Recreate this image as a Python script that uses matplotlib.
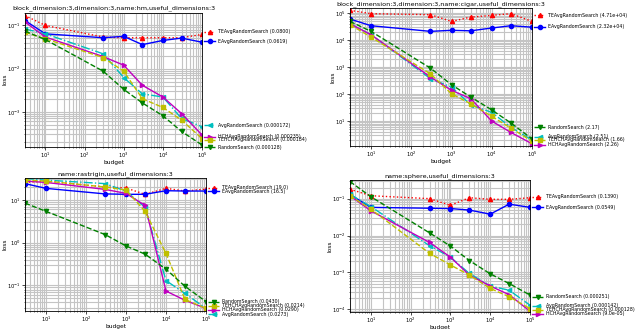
import matplotlib
matplotlib.use("Agg")
import matplotlib.pyplot as plt
from matplotlib.lines import Line2D

# budgets (x) shared by every panel
budgets = [3, 10, 300, 1000, 3000, 10000, 30000, 100000]

methods = ["TEAvgRandomSearch", "EAvgRandomSearch", "AvgRandomSearch",
           "HCHAvgRandomSearch", "TEHCHAvgRandomSearch", "RandomSearch"]

# losses, one dict per panel
hm_loss = {
    "TEAvgRandomSearch":    [0.17, 0.10, 0.054, 0.052, 0.052, 0.052, 0.052, 0.062],
    "EAvgRandomSearch":     [0.13, 0.064, 0.052, 0.056, 0.036, 0.045, 0.051, 0.041],
    "AvgRandomSearch":      [0.083, 0.064, 0.022, 0.0062, 0.0026, 0.0022, 7e-4, 4.5e-4],
    "HCHAvgRandomSearch":   [0.12, 0.054, 0.019, 0.012, 0.0041, 0.0022, 9.1e-4, 2.9e-4],
    "TEHCHAvgRandomSearch": [0.070, 0.049, 0.018, 0.0087, 0.0020, 0.00126, 6.4e-4, 2.4e-4],
    "RandomSearch":         [0.074, 0.047, 0.0087, 0.0033, 0.0016, 8.1e-4, 3.5e-4, 1.7e-4],
}
cigar_loss = {
    "TEAvgRandomSearch":    [1.26e5, 9.5e4, 8.7e4, 4.9e4, 7.1e4, 8.2e4, 9.5e4, 4.9e4],
    "EAvgRandomSearch":     [6.0e4, 3.4e4, 2.1e4, 2.3e4, 2.2e4, 2.8e4, 3.4e4, 3.0e4],
    "AvgRandomSearch":      [4.0e4, 1.58e4, 372, 182, 40, 21, 5.9, 2.0],
    "HCHAvgRandomSearch":   [4.0e4, 1.58e4, 427, 138, 68, 10, 3.8, 1.45],
    "TEHCHAvgRandomSearch": [3.7e4, 1.29e4, 562, 102, 44, 15, 5.5, 1.8],
    "RandomSearch":         [4.9e4, 2.1e4, 912, 222, 78, 26, 8.5, 2.2],
}
rastrigin_loss = {
    "TEAvgRandomSearch":    [25.6, 27.5, 20, 19, 13.5, 18.6, 16.1, 17.9],
    "EAvgRandomSearch":     [24, 18.6, 13.8, 13.5, 13.5, 16.4, 16.1, 16.1],
    "AvgRandomSearch":      [31.6, 29, 24, 16, 6.7, 0.13, 0.065, 0.029],
    "HCHAvgRandomSearch":   [27.5, 25.6, 17.6, 14.2, 7.4, 0.074, 0.045, 0.029],
    "TEHCHAvgRandomSearch": [29, 27.5, 20, 17, 5.4, 0.56, 0.047, 0.029],
    "RandomSearch":         [8.4, 5.4, 1.55, 0.84, 0.54, 0.24, 0.095, 0.042],
}
sphere_loss = {
    "TEAvgRandomSearch":    [0.18, 0.12, 0.10, 0.066, 0.106, 0.096, 0.096, 0.106],
    "EAvgRandomSearch":     [0.13, 0.058, 0.055, 0.054, 0.049, 0.038, 0.071, 0.058],
    "AvgRandomSearch":      [0.13, 0.061, 0.0053, 0.0026, 9.4e-4, 4.3e-4, 3.3e-4, 1.3e-4],
    "HCHAvgRandomSearch":   [0.12, 0.047, 0.0065, 0.0026, 8.5e-4, 4.3e-4, 2.5e-4, 8.9e-5],
    "TEHCHAvgRandomSearch": [0.12, 0.052, 0.0033, 0.0016, 8.5e-4, 3.7e-4, 2.2e-4, 1.05e-4],
    "RandomSearch":         [0.29, 0.113, 0.0118, 0.0052, 0.0021, 9.2e-4, 5.0e-4, 2.45e-4],
}

hm_scores = ["0.0800", "0.0619", "0.000172", "0.000235", "0.000184", "0.000128"]
cigar_scores = ["4.71e+04", "2.32e+04", "2.51", "2.26", "1.66", "2.17"]
rastrigin_scores = ["19.0", "16.5", "0.0273", "0.0290", "0.0214", "0.0430"]
sphere_scores = ["0.1390", "0.0549", "0.000142", "9.0e-05", "0.000128", "0.000251"]

titles = ["block_dimension:3,dimension:3,name:hm,useful_dimensions:3",
          "block_dimension:3,dimension:3,name:cigar,useful_dimensions:3",
          "name:rastrigin,useful_dimensions:3",
          "name:sphere,useful_dimensions:3"]

xticks = [10, 100, 1000, 10000, 100000]
yticks = [[1e-3, 1e-2, 1e-1], [1e1, 1e2, 1e3, 1e4, 1e5],
          [1e-1, 1e0, 1e1], [1e-4, 1e-3, 1e-2, 1e-1]]

# styles per method
styles = {
    "TEAvgRandomSearch":    dict(color="r", ls=":", marker="^"),
    "EAvgRandomSearch":     dict(color="b", ls="-", marker="o"),
    "AvgRandomSearch":      dict(color="c", ls="-.", marker="<"),
    "HCHAvgRandomSearch":   dict(color="m", ls="-", marker=">"),
    "TEHCHAvgRandomSearch": dict(color="y", ls="--", marker="s"),
    "RandomSearch":         dict(color="g", ls="--", marker="v"),
}

W, H = 640, 329
fig = plt.figure(figsize=(W / 100, H / 100), dpi=100)

# panel boxes in pixels: left, right, top, bottom
boxes = [(25, 202, 12.5, 146.7), (350, 532, 8.3, 146),
         (25, 206, 177.7, 310.5), (350, 530, 180, 312)]
ylims = [(1.55e-4, 0.2), (1.2, 1.5e5), (0.026, 33), (8.5e-5, 0.32)]
# label pixel rows to the right of each panel (order of `methods`)
label_rows = [[32, 41, 125, 137, 139.7, 147],
              [15, 26.7, 136.7, 145, 140, 127.3],
              [187.7, 191, 314.3, 310, 305.7, 301.7],
              [196.7, 207.3, 305.7, 314, 310, 296.7]]
panels = [hm_loss, cigar_loss, rastrigin_loss, sphere_loss]
scores = [hm_scores, cigar_scores, rastrigin_scores, sphere_scores]

for k in range(4):
    l, r, t, b = boxes[k]
    ax = fig.add_axes([l / W, 1 - b / H, (r - l) / W, (b - t) / H])
    data = panels[k]
    for m in methods:
        st = styles[m]
        ax.plot(budgets, data[m], color=st["color"], ls=st["ls"], marker=st["marker"],
                lw=1.0, ms=3)
    ax.set_xscale("log")
    ax.set_yscale("log")
    ax.set_xlim(3, 1e5)
    ax.set_ylim(*ylims[k])
    ax.set_xticks(xticks)
    ax.set_yticks(yticks[k])
    ax.grid(True, which="both", color="#c4c4c4", lw=0.8)
    ax.set_axisbelow(True)
    ax.tick_params(labelsize=3.7, length=2, width=0.5, pad=1)
    ax.tick_params(which="minor", length=1, width=0.4)
    for s in ax.spines.values():
        s.set_linewidth(0.6)
    ax.set_xlabel("budget", fontsize=4.2, labelpad=0)
    ax.set_ylabel("loss", fontsize=4.2, labelpad=0)
    ax.set_title(titles[k], fontsize=4.6, pad=2)

    # curve labels outside the axes
    for i, m in enumerate(methods):
        st = styles[m]
        yf = 1 - label_rows[k][i] / H
        x0, x1 = (r + 2) / W, (r + 13) / W
        fig.add_artist(Line2D([x0, (x0 + x1) / 2, x1], [yf, yf, yf], transform=fig.transFigure,
                              color=st["color"], ls=st["ls"], lw=1.0, marker=st["marker"],
                              ms=3, markevery=[1]))
        fig.text((r + 16) / W, yf, "%s (%s)" % (m, scores[k][i]), fontsize=3.4,
                 va="center", ha="left")

fig.savefig("out.png", dpi=100, facecolor="white")
